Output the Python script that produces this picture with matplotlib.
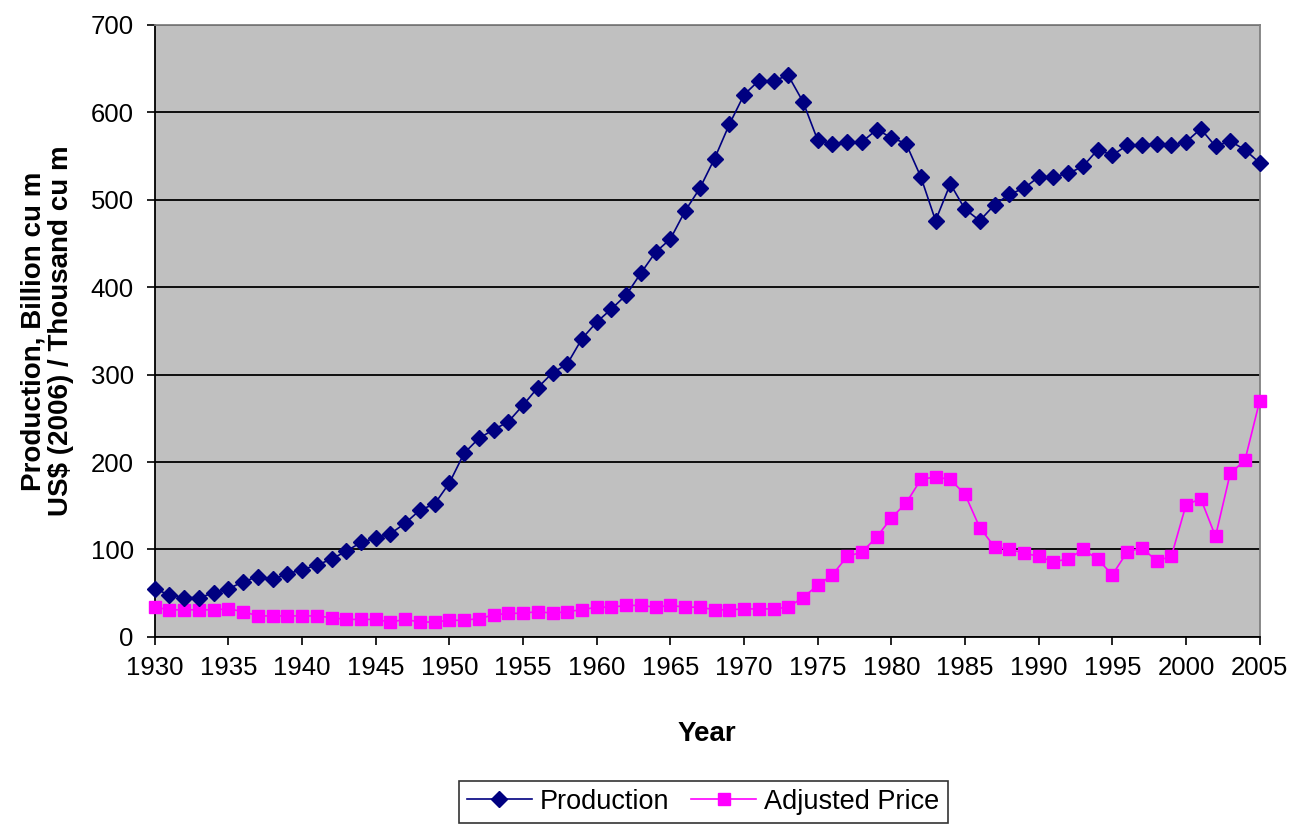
import matplotlib.pyplot as plt

# years 1930..2005
years = list(range(1930, 2006))

# natural gas production, billion cu m
production = [55, 48, 45, 45, 50, 55, 63, 69, 66, 72,
              77, 82, 89, 98, 108, 113, 118, 130, 145, 152,
              176, 210, 227, 237, 246, 265, 285, 302, 312, 341,
              360, 375, 391, 416, 440, 455, 487, 513, 547, 586,
              620, 636, 636, 642, 612, 568, 564, 566, 566, 580,
              571, 564, 526, 476, 518, 489, 476, 494, 506, 513,
              526, 526, 530, 538, 557, 551, 562, 562, 564, 562,
              566, 581, 561, 567, 557, 542]

# adjusted price, US$ (2006) / thousand cu m
price = [34, 31, 31, 31, 31, 32, 29, 24, 24, 24,
         24, 24, 22, 20, 20, 20, 17, 20, 17, 17,
         19, 19, 21, 25, 27, 27, 29, 27, 29, 31,
         34, 34, 36, 36, 34, 36, 34, 34, 31, 31,
         32, 32, 32, 34, 45, 59, 71, 92, 97, 114,
         136, 153, 180, 183, 180, 163, 125, 103, 100, 96,
         92, 86, 89, 100, 89, 71, 97, 102, 87, 92,
         151, 158, 115, 187, 202, 270]

x_ticks = list(range(1930, 2006, 5))
y_ticks = list(range(0, 701, 100))

plt.rcParams['font.family'] = ['Liberation Sans', 'DejaVu Sans']

fig = plt.figure(figsize=(13, 8.25), dpi=100)
ax = fig.add_axes([0.119, 0.228, 0.850, 0.742])
ax.set_facecolor('#C0C0C0')

ax.plot(years, production, color='#000080', linewidth=1.2, marker='D',
        markersize=8.5, label='Production', clip_on=False, zorder=4)
ax.plot(years, price, color='#FF00FF', linewidth=1.2, marker='s',
        markersize=8.5, label='Adjusted Price', clip_on=False, zorder=3)

ax.set_xlim(1930, 2005)
ax.set_ylim(0, 700)
ax.set_xticks(x_ticks)
ax.set_yticks(y_ticks)
ax.tick_params(axis='both', labelsize=18.5, length=6, width=1.2, direction='out',
               colors='black')
ax.tick_params(axis='x', pad=8)
ax.tick_params(axis='y', pad=9)

ax.yaxis.grid(True, color='black', linewidth=1.3)
ax.set_axisbelow(True)

for side in ['left', 'bottom']:
    ax.spines[side].set_color('black')
    ax.spines[side].set_linewidth(1.3)
for side in ['top', 'right']:
    ax.spines[side].set_color('#808080')
    ax.spines[side].set_linewidth(1.3)

ax.set_xlabel('Year', fontsize=20, fontweight='bold', labelpad=29)
ax.set_ylabel('Production, Billion cu m\nUS\\$ (2006) / Thousand cu m', fontsize=20,
              fontweight='bold', labelpad=12, linespacing=1.1)

leg = fig.legend(loc='lower center', bbox_to_anchor=(0.541, -0.014), ncol=2,
                 fontsize=19.5, frameon=True, fancybox=False, edgecolor='black',
                 handlelength=2.4, handletextpad=0.3, columnspacing=0.8,
                 borderpad=0.3)
leg.get_frame().set_linewidth(1.2)

fig.savefig('out.png', dpi=100)
